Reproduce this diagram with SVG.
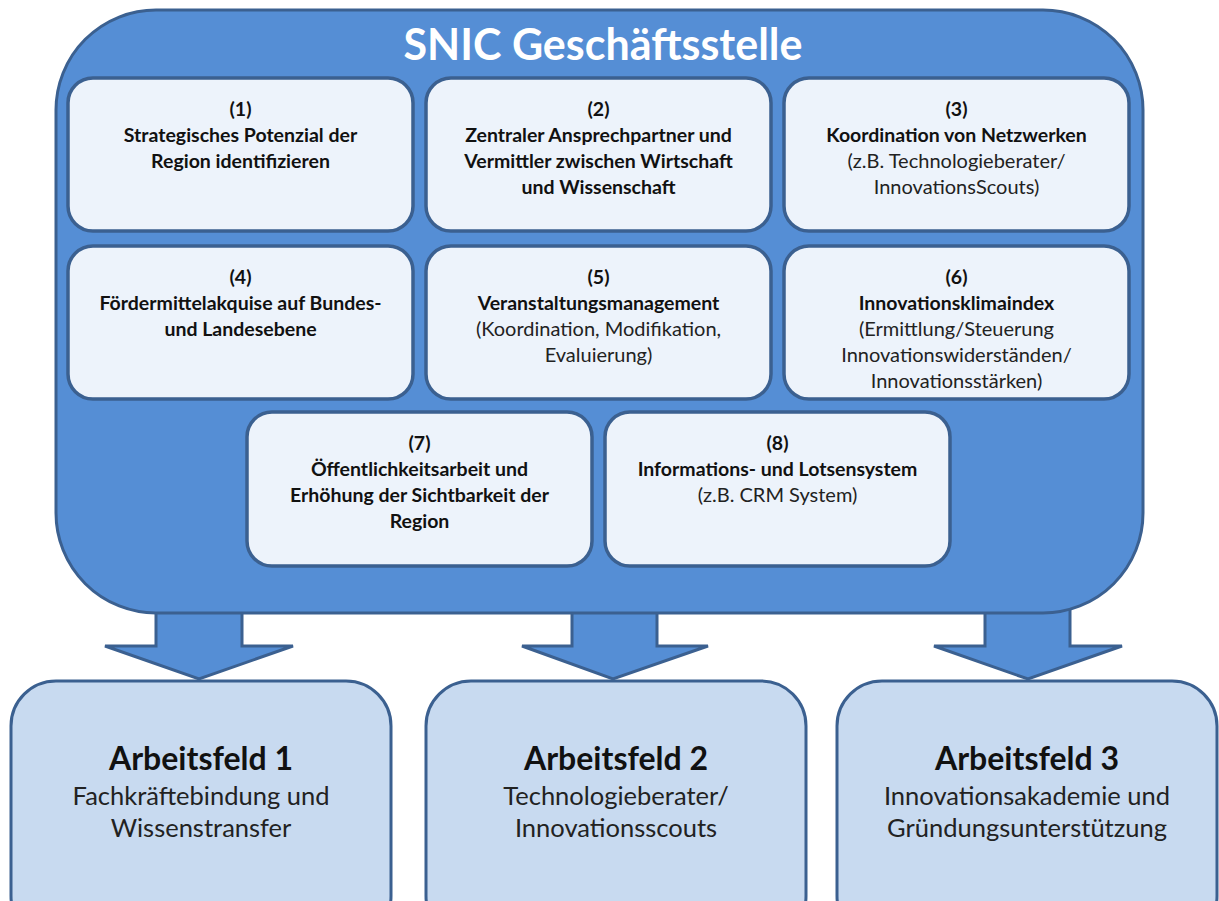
<svg xmlns="http://www.w3.org/2000/svg" width="1219" height="901" viewBox="0 0 1219 901">
<style>
.big{fill:#558ED5;stroke:#3B6090;stroke-width:3}
.arrow{fill:#558ED5;stroke:#3B6090;stroke-width:3;stroke-linejoin:miter}
.inner{fill:#EDF3FB;stroke:#3B6090;stroke-width:3.5}
.field{fill:#C8DAF0;stroke:#3B6090;stroke-width:3}
text{font-family:Lato,"Open Sans","Liberation Sans",sans-serif;text-anchor:middle;fill:#111}
.title{font-size:43px;font-weight:bold;fill:#fff}
.b{font-size:19.5px;font-weight:bold}
.r{font-size:20px;fill:#222}
.fb{font-size:32px;font-weight:bold}
.fr{font-size:25.5px;fill:#222}
</style>
<g id="connectors">
<polygon class="arrow" points="156,605 242,605 242,646 293,646 199,679 105,646 156,646"/>
<polygon class="arrow" points="572,605 657,605 657,646 708,646 613,679 522,646 572,646"/>
<polygon class="arrow" points="985,605 1070,605 1070,646 1122,646 1028,679 934,646 985,646"/>
</g>
<g id="snic">
<rect class="big" x="56" y="10" width="1087" height="603" rx="100" ry="100"/>
<text class="title" x="603" y="60">SNIC Geschäftsstelle</text>
</g>
<g id="n1">
<rect class="inner" x="68" y="78" width="345" height="153" rx="25"/>
<text class="b" x="240.5" y="116">(1)</text>
<text class="b" x="240.5" y="142">Strategisches Potenzial der</text>
<text class="b" x="240.5" y="168">Region identifizieren</text>
</g>
<g id="n2">
<rect class="inner" x="426" y="78" width="345" height="153" rx="25"/>
<text class="b" x="598.5" y="116">(2)</text>
<text class="b" x="598.5" y="142">Zentraler Ansprechpartner und</text>
<text class="b" x="598.5" y="168">Vermittler zwischen Wirtschaft</text>
<text class="b" x="598.5" y="194">und Wissenschaft</text>
</g>
<g id="n3">
<rect class="inner" x="784" y="78" width="345" height="153" rx="25"/>
<text class="b" x="956.5" y="116">(3)</text>
<text class="b" x="956.5" y="142">Koordination von Netzwerken</text>
<text class="r" x="956.5" y="168">(z.B. Technologieberater/</text>
<text class="r" x="956.5" y="194">InnovationsScouts)</text>
</g>
<g id="n4">
<rect class="inner" x="68" y="246" width="345" height="153" rx="25"/>
<text class="b" x="240.5" y="284">(4)</text>
<text class="b" x="240.5" y="310">Fördermittelakquise auf Bundes-</text>
<text class="b" x="240.5" y="336">und Landesebene</text>
</g>
<g id="n5">
<rect class="inner" x="426" y="246" width="345" height="153" rx="25"/>
<text class="b" x="598.5" y="284">(5)</text>
<text class="b" x="598.5" y="310">Veranstaltungsmanagement</text>
<text class="r" x="598.5" y="336">(Koordination, Modifikation,</text>
<text class="r" x="598.5" y="362">Evaluierung)</text>
</g>
<g id="n6">
<rect class="inner" x="784" y="246" width="345" height="153" rx="25"/>
<text class="b" x="956.5" y="284">(6)</text>
<text class="b" x="956.5" y="310">Innovationsklimaindex</text>
<text class="r" x="956.5" y="336">(Ermittlung/Steuerung</text>
<text class="r" x="956.5" y="362">Innovationswiderständen/</text>
<text class="r" x="956.5" y="388">Innovationsstärken)</text>
</g>
<g id="n7">
<rect class="inner" x="247" y="412" width="345" height="154" rx="25"/>
<text class="b" x="419.5" y="450">(7)</text>
<text class="b" x="419.5" y="476">Öffentlichkeitsarbeit und</text>
<text class="b" x="419.5" y="502">Erhöhung der Sichtbarkeit der</text>
<text class="b" x="419.5" y="528">Region</text>
</g>
<g id="n8">
<rect class="inner" x="605" y="412" width="345" height="154" rx="25"/>
<text class="b" x="777.5" y="450">(8)</text>
<text class="b" x="777.5" y="476">Informations- und Lotsensystem</text>
<text class="r" x="777.5" y="502">(z.B. CRM System)</text>
</g>
<g id="af1">
<rect class="field" x="11" y="681" width="380" height="260" rx="45"/>
<text class="fb" x="201" y="770">Arbeitsfeld 1</text>
<text class="fr" x="201" y="805">Fachkräftebindung und</text>
<text class="fr" x="201" y="837">Wissenstransfer</text>
</g>
<g id="af2">
<rect class="field" x="426" y="681" width="380" height="260" rx="45"/>
<text class="fb" x="616" y="770">Arbeitsfeld 2</text>
<text class="fr" x="616" y="805">Technologieberater/</text>
<text class="fr" x="616" y="837">Innovationsscouts</text>
</g>
<g id="af3">
<rect class="field" x="837" y="681" width="380" height="260" rx="45"/>
<text class="fb" x="1027" y="770">Arbeitsfeld 3</text>
<text class="fr" x="1027" y="805">Innovationsakademie und</text>
<text class="fr" x="1027" y="837">Gründungsunterstützung</text>
</g>
</svg>
